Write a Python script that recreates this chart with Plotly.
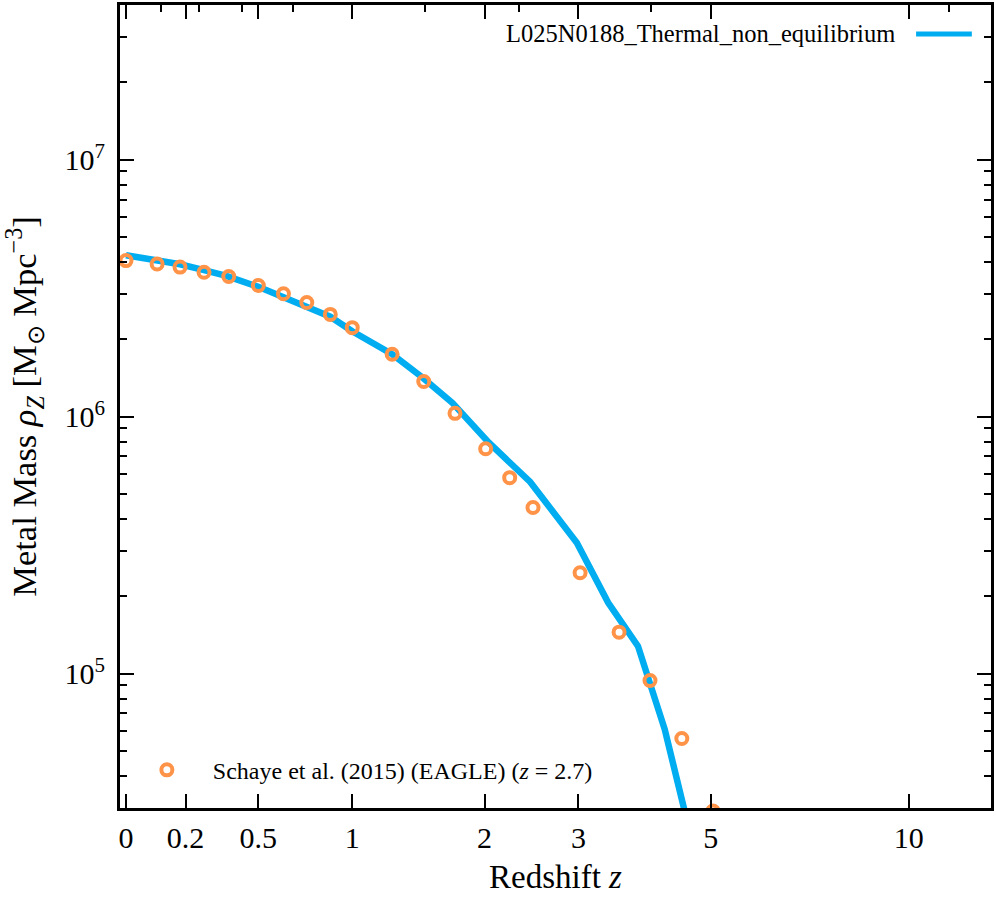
"""Cosmic metal mass density vs redshift: simulation line against EAGLE points."""

import numpy as np
import plotly.graph_objects as go

# simulation run (blue line)
SIM_NAME = "L025N0188_Thermal_non_equilibrium"
SIM_Z = [0.0, 0.10, 0.18, 0.27, 0.36, 0.50, 0.61, 0.74, 0.87, 1.00, 1.26, 1.48,
         1.72, 2.04, 2.45, 2.98, 3.38, 3.80, 4.21, 4.53, 4.77]
SIM_RHO = [4.25e6, 4.09e6, 3.92e6, 3.72e6, 3.53e6, 3.20e6, 2.95e6, 2.70e6, 2.45e6,
           2.15e6, 1.75e6, 1.42e6, 1.13e6, 7.92e5, 5.57e5, 3.23e5, 1.89e5, 1.28e5,
           6.07e4, 2.97e4, 1.8e4]

# Schaye et al. (2015) EAGLE (orange open circles)
EAGLE_NAME = "Schaye et al. (2015) (EAGLE) (<i>z</i> = 2.7)"
EAGLE_Z = [0.0, 0.10, 0.18, 0.27, 0.37, 0.50, 0.62, 0.74, 0.87, 1.00, 1.26, 1.49,
           1.74, 2.01, 2.24, 2.48, 3.02, 3.53, 3.98, 4.49, 5.04]
EAGLE_RHO = [4.05e6, 3.93e6, 3.82e6, 3.65e6, 3.51e6, 3.24e6, 3.01e6, 2.78e6, 2.50e6,
             2.22e6, 1.75e6, 1.37e6, 1.03e6, 7.50e5, 5.79e5, 4.43e5, 2.47e5, 1.45e5,
             9.4e4, 5.59e4, 2.92e4]

# axis ticks (x axis is log(1+z), labelled in z)
X_TICKS_Z = [0, 0.2, 0.5, 1, 2, 3, 5, 10]
X_TICK_TEXT = ["0", "0.2", "0.5", "1", "2", "3", "5", "10"]
TOP_MINOR_Z = [0.112, 0.25, 0.428, 0.667, 1.5, 2.333, 4.0, 11.46]
Y_TICKS = [1e5, 1e6, 1e7]
Y_TICK_TEXT = ["10<sup>5</sup>", "10<sup>6</sup>", "10<sup>7</sup>"]

BLUE = "#00adf0"
ORANGE = "#ff9348"
FONT = "Liberation Serif"

X_RANGE = [-0.008, 1.151]                      # log10(1+z)
Y_RANGE = [np.log10(3e4), np.log10(4e7)]
Y_MINOR = [m * 10.0**e for e in range(4, 8) for m in range(2, 10)]

fig = go.Figure()
fig.add_trace(go.Scatter(
    x=[1 + z for z in SIM_Z], y=SIM_RHO, mode="lines", name=SIM_NAME,
    line=dict(color=BLUE, width=6.5), showlegend=False,
))
fig.add_trace(go.Scatter(
    x=[1 + z for z in EAGLE_Z], y=EAGLE_RHO, mode="markers", name=EAGLE_NAME,
    marker=dict(symbol="circle-open", size=11, color=ORANGE, line=dict(width=4, color=ORANGE)),
))
# invisible copy so the mirrored top/right axes get drawn
fig.add_trace(go.Scatter(
    x=[1 + z for z in EAGLE_Z], y=EAGLE_RHO, mode="markers", xaxis="x2", yaxis="y2",
    marker=dict(opacity=0), showlegend=False, hoverinfo="skip",
))

axis_common = dict(
    showline=True, linecolor="black", linewidth=3, ticks="inside",
    tickcolor="black", tickwidth=2, ticklen=14, showgrid=False, zeroline=False,
    tickfont=dict(family=FONT, size=30, color="black"),
)
minor_common = dict(ticks="inside", ticklen=7, tickwidth=2, tickcolor="black",
                    tickmode="array")

fig.update_layout(
    width=996, height=900,
    margin=dict(l=120, r=2, t=4, b=92),
    paper_bgcolor="white", plot_bgcolor="white",
    font=dict(family=FONT, color="black"),
    xaxis=dict(
        **axis_common, type="log", range=X_RANGE, mirror=True,
        tickmode="array", tickvals=[1 + z for z in X_TICKS_Z], ticktext=X_TICK_TEXT,
        ticklabelstandoff=1,
        title=dict(text="Redshift <i>z</i>", font=dict(family=FONT, size=33), standoff=12),
    ),
    xaxis2=dict(
        **axis_common, type="log", range=X_RANGE, overlaying="x", side="top",
        anchor="y", tickmode="array", tickvals=[1 + z for z in X_TICKS_Z],
        showticklabels=False,
        minor=dict(**minor_common, tickvals=[1 + z for z in TOP_MINOR_Z]),
    ),
    yaxis=dict(
        **axis_common, type="log", range=Y_RANGE, mirror=True,
        tickmode="array", tickvals=Y_TICKS, ticktext=Y_TICK_TEXT,
        ticklabelstandoff=6,
        minor=dict(**minor_common, tickvals=Y_MINOR),
        title=dict(
            text="Metal Mass <i>ρ</i><sub><i>Z</i></sub> [M<sub>⊙</sub> Mpc<sup>−3</sup>]",
            font=dict(family=FONT, size=34.5), standoff=20,
        ),
    ),
    yaxis2=dict(
        **axis_common, type="log", range=Y_RANGE, overlaying="y", side="right",
        anchor="x", tickmode="array", tickvals=Y_TICKS, showticklabels=False,
        minor=dict(**minor_common, tickvals=Y_MINOR),
    ),
    legend=dict(
        x=0.001, y=0.047, xanchor="left", yanchor="middle",
        bgcolor="rgba(0,0,0,0)", itemwidth=82,
        font=dict(family=FONT, size=24, color="black"),
    ),
)

# top-right legend entry: label first, line sample to its right
fig.add_annotation(
    x=0.892, y=0.964, xref="paper", yref="paper", xanchor="right", yanchor="middle",
    text=SIM_NAME, showarrow=False, font=dict(family=FONT, size=24.5, color="black"),
)
fig.add_shape(
    type="line", xref="paper", yref="paper", x0=0.914, x1=0.978, y0=0.964, y1=0.964,
    line=dict(color=BLUE, width=5),
)

fig.write_html("out.html", config={"displayModeBar": False},
               post_script="document.body.style.margin = '0';")
